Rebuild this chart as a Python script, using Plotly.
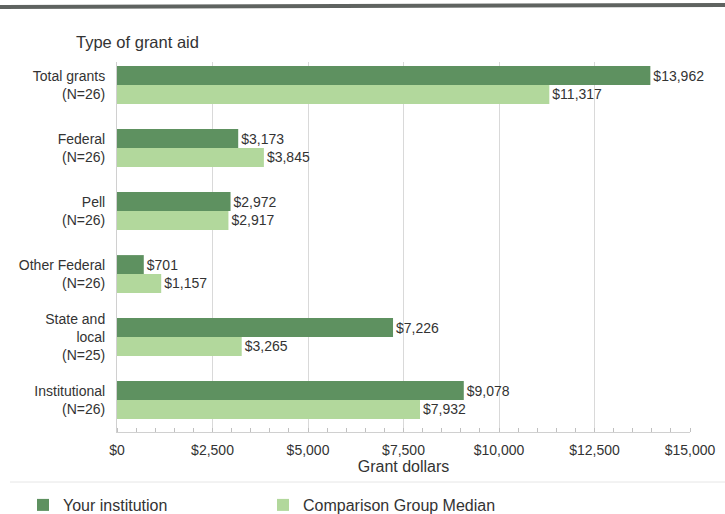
import plotly.graph_objects as go

categories = ["Total grants<br>(N=26)", "Federal<br>(N=26)", "Pell<br>(N=26)",
              "Other Federal<br>(N=26)", "State and<br>local<br>(N=25)", "Institutional<br>(N=26)"]
your_institution = [13962, 3173, 2972, 701, 7226, 9078]
comparison_median = [11317, 3845, 2917, 1157, 3265, 7932]
tick_vals = [0, 2500, 5000, 7500, 10000, 12500, 15000]
tick_text = ["$0", "$2,500", "$5,000", "$7,500", "$10,000", "$12,500", "$15,000"]

DARK = "#5e9160"
LIGHT = "#b2d89c"
FONT = "Liberation Sans, Arial, sans-serif"

fig = go.Figure()
fig.add_trace(go.Bar(
    y=categories, x=your_institution, orientation="h", name="Your institution",
    marker=dict(color=DARK, line=dict(width=0)),
    text=[f"${v:,}" for v in your_institution], textposition="outside",
    textfont=dict(size=14, color="#333333", family=FONT), cliponaxis=False,
))
fig.add_trace(go.Bar(
    y=categories, x=comparison_median, orientation="h", name="Comparison Group Median",
    marker=dict(color=LIGHT, line=dict(width=0)),
    text=[f"${v:,}" for v in comparison_median], textposition="outside",
    textfont=dict(size=14, color="#333333", family=FONT), cliponaxis=False,
))

L, R, T, B = 117, 35, 62, 82
W, H = 725, 514
pw, ph = W - L - R, H - T - B

def px_x(p):
    return (p - L) / pw

def px_y(p):
    return (H - B - p) / ph

fig.update_layout(
    width=W, height=H,
    margin=dict(l=L, r=R, t=T, b=B, autoexpand=False),
    paper_bgcolor="white", plot_bgcolor="white",
    barmode="group", bargap=0.4, bargroupgap=0,
    font=dict(family=FONT, size=14, color="#333333"),
    xaxis=dict(
        range=[0, 15000], tickvals=tick_vals, ticktext=tick_text,
        showgrid=True, gridcolor="#d9d9d9", gridwidth=1,
        zeroline=False, showline=True, linecolor="#d0d0d0", linewidth=1,
        ticks="", tickfont=dict(size=14, color="#333333"), ticklabelstandoff=5,
        minor=dict(dtick=500, ticks="inside", ticklen=4, tickcolor="#c0c0c0", showgrid=False),
        title=dict(text="Grant dollars", font=dict(size=16, color="#333333"), standoff=4),
        automargin=False,
    ),
    yaxis=dict(
        range=[5.508, -0.365], showgrid=False, showline=True, linecolor="#d0d0d0",
        ticks="", tickfont=dict(size=14, color="#333333"), ticklabelstandoff=8,
        automargin=False,
    ),
    showlegend=True,
    legend=dict(
        orientation="h", x=px_x(23), y=px_y(505), xanchor="left", yanchor="middle",
        font=dict(size=16, color="#333333"), entrywidth=195, entrywidthmode="pixels",
        itemsizing="constant", traceorder="normal", bgcolor="rgba(0,0,0,0)",
    ),
    annotations=[
        dict(text="Type of grant aid", x=px_x(74), y=px_y(42), xref="paper", yref="paper",
             xanchor="left", yanchor="middle", showarrow=False,
             font=dict(size=16.5, color="#333333")),
    ],
    shapes=[
        dict(type="line", xref="paper", yref="paper", x0=px_x(0), x1=px_x(725),
             y0=px_y(7), y1=px_y(5), line=dict(color="#5f6360", width=4)),
        dict(type="line", xref="paper", yref="paper", x0=px_x(10), x1=px_x(725),
             y0=px_y(482), y1=px_y(482), line=dict(color="#e6e6e6", width=1)),
    ],
)

fig.write_html("out.html", config={"displayModeBar": False},
               post_script="document.body.style.margin='0';")
